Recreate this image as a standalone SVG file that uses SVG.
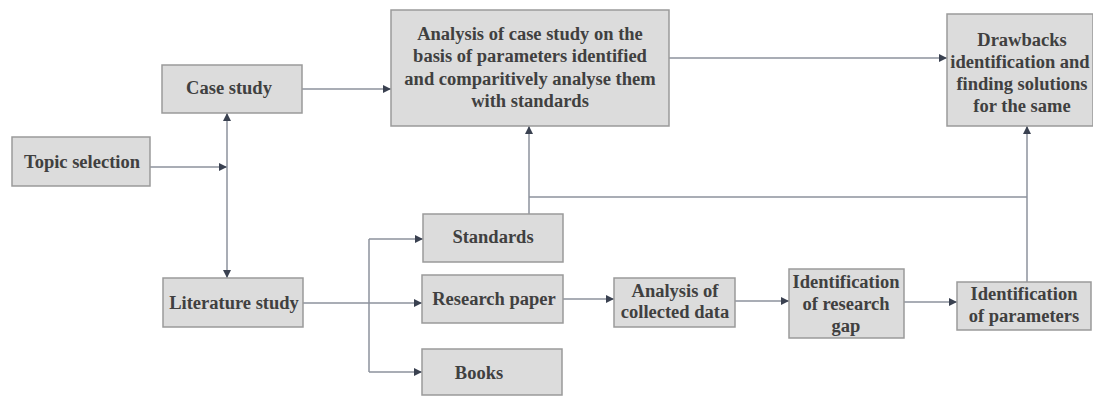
<svg xmlns="http://www.w3.org/2000/svg" width="1093" height="396" viewBox="0 0 1093 396">
<style>
.box{fill:#dcdcdc;stroke:#9a9a9a;stroke-width:1.5}
.t{font-family:"Liberation Serif","DejaVu Serif",serif;font-size:18.5px;font-weight:bold;fill:#404040;text-anchor:middle}
.ln{fill:none;stroke:#8c929c;stroke-width:1.5}
</style>
<defs>
<marker id="ah" viewBox="0 0 10 10" refX="10" refY="5" markerWidth="8" markerHeight="8" markerUnits="userSpaceOnUse" orient="auto">
<path d="M0,0 L10,5 L0,10 Z" fill="#3a4150"/>
</marker>
</defs>
<rect width="1093" height="396" fill="#ffffff"/>
<g id="connectors">
<path class="ln" d="M150,167 H227" marker-end="url(#ah)"/>
<path class="ln" d="M227,200 V113" marker-end="url(#ah)"/>
<path class="ln" d="M227,200 V278" marker-end="url(#ah)"/>
<path class="ln" d="M302,89 H391" marker-end="url(#ah)"/>
<path class="ln" d="M669,58 H947" marker-end="url(#ah)"/>
<path class="ln" d="M303,303 H369"/>
<path class="ln" d="M369,239 V372"/>
<path class="ln" d="M369,239 H423" marker-end="url(#ah)"/>
<path class="ln" d="M369,303 H422" marker-end="url(#ah)"/>
<path class="ln" d="M369,372 H422" marker-end="url(#ah)"/>
<path class="ln" d="M529,214 V126" marker-end="url(#ah)"/>
<path class="ln" d="M529,197 H1027"/>
<path class="ln" d="M1027,282 V126" marker-end="url(#ah)"/>
<path class="ln" d="M563,299 H614" marker-end="url(#ah)"/>
<path class="ln" d="M735,301 H789" marker-end="url(#ah)"/>
<path class="ln" d="M904,302 H957" marker-end="url(#ah)"/>
</g>
<g id="topic">
<rect class="box" x="12" y="137" width="138" height="49"/>
<text class="t" x="82" y="168">Topic selection</text>
</g>
<g id="case">
<rect class="box" x="162" y="65" width="140" height="48"/>
<text class="t" x="229" y="94">Case study</text>
</g>
<g id="literature">
<rect class="box" x="163" y="278" width="140" height="49"/>
<text class="t" x="234" y="309">Literature study</text>
</g>
<g id="analysis">
<rect class="box" x="391" y="10" width="278" height="116"/>
<text class="t" x="530" y="40">Analysis of case study on the</text>
<text class="t" x="530" y="62">basis of parameters identified</text>
<text class="t" x="530" y="85">and comparitively analyse them</text>
<text class="t" x="530" y="107">with standards</text>
</g>
<g id="drawbacks">
<rect class="box" x="947" y="14" width="146" height="112"/>
<text class="t" x="1022" y="46">Drawbacks</text>
<text class="t" x="1020" y="68">identification and</text>
<text class="t" x="1022" y="90">finding solutions</text>
<text class="t" x="1022" y="112">for the same</text>
</g>
<g id="standards">
<rect class="box" x="423" y="214" width="140" height="48"/>
<text class="t" x="493" y="243">Standards</text>
</g>
<g id="research">
<rect class="box" x="422" y="275" width="141" height="48"/>
<text class="t" x="494" y="305">Research paper</text>
</g>
<g id="books">
<rect class="box" x="422" y="349" width="140" height="46"/>
<text class="t" x="479" y="379">Books</text>
</g>
<g id="collected">
<rect class="box" x="614" y="278" width="121" height="49"/>
<text class="t" x="675" y="297">Analysis of</text>
<text class="t" x="675" y="318">collected data</text>
</g>
<g id="gap">
<rect class="box" x="789" y="269" width="115" height="69"/>
<text class="t" x="846" y="288">Identification</text>
<text class="t" x="846" y="310">of research</text>
<text class="t" x="846" y="332">gap</text>
</g>
<g id="parameters">
<rect class="box" x="957" y="282" width="134" height="48"/>
<text class="t" x="1024" y="300">Identification</text>
<text class="t" x="1024" y="322">of parameters</text>
</g>
</svg>
